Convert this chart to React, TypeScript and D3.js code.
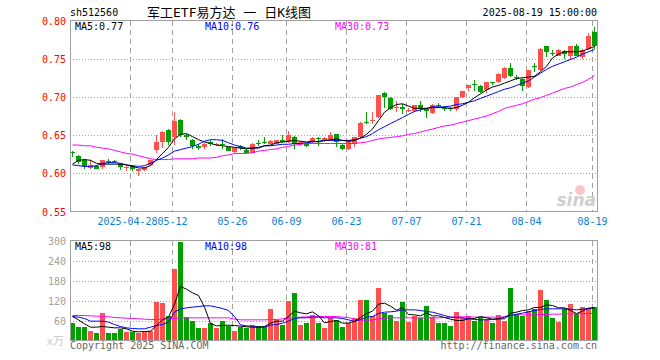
import React from 'react';
import { scaleBand, scaleLinear, line } from 'd3';

const dates = [
  '2025-04-14','2025-04-15','2025-04-16','2025-04-17','2025-04-18','2025-04-21','2025-04-22','2025-04-23','2025-04-24','2025-04-25',
  '2025-04-28','2025-04-29','2025-04-30','2025-05-06','2025-05-07','2025-05-08','2025-05-09','2025-05-12','2025-05-13','2025-05-14',
  '2025-05-15','2025-05-16','2025-05-19','2025-05-20','2025-05-21','2025-05-22','2025-05-23','2025-05-26','2025-05-27','2025-05-28',
  '2025-05-29','2025-05-30','2025-06-03','2025-06-04','2025-06-05','2025-06-06','2025-06-09','2025-06-10','2025-06-11','2025-06-12',
  '2025-06-13','2025-06-16','2025-06-17','2025-06-18','2025-06-19','2025-06-20','2025-06-23','2025-06-24','2025-06-25','2025-06-26',
  '2025-06-27','2025-06-30','2025-07-01','2025-07-02','2025-07-03','2025-07-04','2025-07-07','2025-07-08','2025-07-09','2025-07-10',
  '2025-07-11','2025-07-14','2025-07-15','2025-07-16','2025-07-17','2025-07-18','2025-07-21','2025-07-22','2025-07-23','2025-07-24',
  '2025-07-25','2025-07-28','2025-07-29','2025-07-30','2025-07-31','2025-08-01','2025-08-04','2025-08-05','2025-08-06','2025-08-07',
  '2025-08-08','2025-08-11','2025-08-12','2025-08-13','2025-08-14','2025-08-15','2025-08-18','2025-08-19',
];

const opens = [
  .628,.623,.617,.607,.609,.608,.616,.616,.612,.607, .610,.603,.604,.611,.630,.641,.657,.648,.670,.650,
  .644,.636,.634,.641,.637,.639,.634,.628,.636,.631, .627,.640,.641,.639,.639,.644,.641,.648,.638,.639,
  .642,.646,.642,.645,.651,.637,.632,.639,.647,.667, .668,.674,.705,.699,.686,.687,.682,.682,.690,.684,
  .679,.690,.685,.686,.684,.700,.711,.717,.714,.709, .719,.719,.725,.738,.726,.724,.713,.740,.735,.766,
  .757,.754,.760,.754,.766,.752,.763,.785,
];
const highs = [
  .629,.624,.619,.618,.611,.618,.619,.618,.613,.610, .611,.606,.608,.618,.650,.656,.658,.680,.671,.651,
  .645,.638,.640,.643,.640,.645,.635,.634,.637,.632, .640,.643,.647,.643,.644,.650,.655,.649,.642,.640,
  .647,.647,.647,.654,.652,.638,.644,.648,.667,.680, .680,.703,.706,.700,.695,.691,.686,.690,.695,.686,
  .691,.692,.688,.687,.700,.708,.715,.722,.716,.720, .720,.731,.739,.745,.729,.725,.735,.745,.764,.767,
  .762,.763,.762,.767,.769,.763,.783,.792,
];
const lows = [
  .621,.612,.605,.605,.605,.605,.612,.613,.604,.603, .603,.597,.603,.610,.627,.633,.637,.637,.647,.643,
  .632,.631,.632,.636,.636,.632,.629,.627,.630,.627, .626,.636,.638,.638,.638,.640,.640,.632,.636,.635,
  .640,.636,.641,.644,.634,.631,.631,.635,.646,.665, .665,.673,.686,.683,.680,.678,.680,.680,.680,.673,
  .678,.687,.681,.681,.681,.698,.708,.708,.705,.705, .716,.718,.724,.726,.722,.708,.712,.732,.734,.752,
  .753,.753,.750,.748,.753,.749,.762,.763,
];
const closes = [
  .626,.615,.610,.611,.606,.617,.615,.615,.608,.608, .606,.606,.608,.618,.641,.654,.641,.669,.650,.647,
  .636,.633,.639,.638,.639,.638,.629,.633,.633,.627, .639,.639,.640,.642,.643,.641,.650,.638,.641,.636,
  .646,.645,.646,.650,.641,.632,.643,.647,.666,.666, .670,.703,.700,.684,.687,.684,.683,.690,.686,.681,
  .690,.689,.684,.685,.700,.708,.715,.716,.706,.719, .718,.730,.738,.728,.725,.714,.735,.739,.763,.759,
  .756,.762,.756,.766,.753,.762,.780,.767,
];

const ma5 = [
  .612,.617,.618,.617,.613,.612,.612,.612,.612,.611, .609,.607,.607,.610,.618,.626,.634,.645,.651,.652,
  .648,.644,.641,.639,.637,.636,.635,.634,.633,.632, .633,.633,.636,.637,.640,.641,.642,.643,.642,.641,
  .642,.641,.643,.644,.645,.643,.642,.643,.646,.651, .658,.669,.680,.686,.690,.691,.688,.685,.685,.685,
  .686,.686,.686,.685,.686,.689,.693,.699,.704,.709, .713,.715,.718,.721,.724,.725,.726,.727,.733,.740,
  .751,.756,.759,.759,.759,.760,.763,.766,
];
const ma10 = [
  .611,.610,.609,.609,.610,.613,.614,.614,.613,.611, .610,.609,.610,.613,.617,.620,.624,.629,.631,.633,
  .635,.638,.642,.644,.644,.643,.640,.637,.635,.633, .633,.634,.636,.636,.637,.638,.638,.639,.639,.640,
  .641,.642,.643,.643,.643,.643,.643,.644,.646,.648, .652,.657,.661,.665,.669,.673,.677,.681,.683,.685,
  .687,.687,.687,.688,.690,.691,.693,.695,.698,.701, .704,.707,.710,.712,.715,.718,.721,.726,.731,.736,
  .740,.743,.746,.749,.752,.756,.759,.762,
];
const ma30 = [
  .637,.637,.636,.636,.634,.633,.632,.630,.628,.626, .625,.623,.621,.619,.618,.618,.618,.619,.619,.619,
  .619,.620,.620,.620,.621,.623,.624,.626,.626,.626, .627,.629,.630,.631,.632,.634,.635,.637,.638,.639,
  .639,.639,.639,.639,.639,.639,.639,.639,.640,.641, .643,.645,.646,.647,.648,.649,.651,.652,.654,.656,
  .658,.660,.662,.663,.665,.667,.669,.671,.673,.675, .678,.681,.685,.687,.689,.691,.694,.697,.699,.702,
  .705,.708,.711,.713,.716,.719,.723,.728,
];

const volumes = [
  52,40,40,30,24,84,22,24,34,25, 27,22,27,30,115,112,75,214,295,72,
  58,37,37,52,37,60,45,30,42,37, 48,45,42,94,62,47,118,142,48,52,
  78,52,37,68,63,40,53,67,123,123, 75,157,83,78,60,115,55,75,67,105,
  70,52,52,43,85,68,75,60,70,65, 52,78,58,157,80,75,90,95,153,121,
  67,55,95,110,80,100,98,100,
];
const volMa5 = [
  72,62,50,40,40,42,40,38,38,35, 28,26,27,28,45,62,70,109,162,154,
  143,135,100,51,44,45,46,45,43,41, 40,40,42,52,58,58,72,88,83,80,
  86,74,53,57,60,52,52,58,69,81, 88,109,112,103,91,99,78,77,74,83,
  74,74,69,64,60,60,65,66,72,68, 64,65,65,82,85,90,92,99,99,107,
  105,98,98,90,81,88,97,98,
];
const volMa10 = [
  72,70,66,58,58,58,55,48,42,38, 36,35,35,40,45,48,55,85,95,98,
  100,102,104,104,100,96,90,72,47,44, 43,40,40,46,48,52,58,66,68,68,
  70,70,68,68,68,66,62,57,63,70, 72,81,85,86,88,92,92,92,90,87,
  85,80,75,70,69,68,66,63,62,62, 63,65,70,75,79,82,86,90,93,95,
  95,95,95,94,92,94,96,98,
];
const volMa30 = [
  75,75,75,74,73,72,71,69,68,67, 66,65,64,63,63,64,65,66,68,68,
  68,68,68,68,68,68,68,64,62,62, 62,62,62,63,63,65,67,69,70,71,
  72,72,72,72,72,70,69,64,61,61, 61,65,67,68,68,68,68,68,68,68,
  68,68,69,70,71,71,71,70,70,70, 70,70,71,76,77,77,77,77,78,78,
  79,79,80,80,80,80,81,81,
];

const tickDates = ['2025-04-28','2025-05-12','2025-05-26','2025-06-09','2025-06-23','2025-07-07','2025-07-21','2025-08-04','2025-08-19'];
const tickLabels = ['2025-04-28','05-12','05-26','06-09','06-23','07-07','07-21','08-04','08-19'];
const priceTicks = [0.80, 0.75, 0.70, 0.65, 0.60, 0.55];
const volTicks = [300, 240, 180, 120, 60];

const UP = '#ff5050';
const DOWN = '#00a000';
const GRID = '#a0a0a0';
const MONO = '"DejaVu Sans Mono", monospace';

export default function App() {
  const left = 70, right = 598;
  const x = scaleBand<string>().domain(dates).range([left, right]);
  const y = scaleLinear().domain([0.55, 0.80]).range([211.5, 20.5]);
  const vy = scaleLinear().domain([0, 300]).range([340.5, 240.5]);
  const cx = (i: number) => (x(dates[i]) as number) + 2.5;

  const priceLine = line<number>().x((_, i) => cx(i)).y(d => y(d));
  const volLine = line<number>().x((_, i) => cx(i)).y(d => vy(d));

  const vgrid = (top: number, bottom: number) =>
    tickDates.map(d => {
      const gx = (x(d) as number) + 0.5;
      return <line key={d + top} x1={gx} x2={gx} y1={top} y2={bottom} stroke={GRID} strokeDasharray="5,4" />;
    });

  return (
    <svg width={660} height={360} style={{ position: 'absolute', left: 0, top: 0, background: '#fff' }}
      fontFamily={MONO} fontSize={10}>
      <rect width={660} height={360} fill="#fff" />

      {/* header */}
      <text x={70} y={16} fill="#000">sh512560</text>
      <text x={229} y={17} textAnchor="middle" fontSize={13}
        fontFamily={'"DejaVu Sans Mono", "Noto Sans CJK SC", sans-serif'}>军工ETF易方达 一 日K线图</text>
      <text x={597} y={16} textAnchor="end" fill="#000">2025-08-19 15:00:00</text>

      {/* price panel grid */}
      {priceTicks.slice(1, -1).map(t => (
        <line key={t} x1={70} x2={597} y1={Math.round(y(t)) + 0.5} y2={Math.round(y(t)) + 0.5}
          stroke={GRID} strokeDasharray="1,2" />
      ))}
      {vgrid(21, 211)}
      {priceTicks.map(t => (
        <text key={t} x={66} y={y(t) + 4} textAnchor="end" fill="#ff0000">{t.toFixed(2)}</text>
      ))}

      {/* watermark */}
      <circle cx={580} cy={190} r={5} fill="#f6b8b8" opacity={0.8} />
      <text x={596} y={206} textAnchor="end" fontSize={17} fontStyle="italic" fontWeight="bold"
        fontFamily="'DejaVu Sans', sans-serif" fill="#cfcfcf">sina</text>

      {/* candles */}
      <g shapeRendering="crispEdges">
        {dates.map((d, i) => {
          const o = opens[i], c = closes[i];
          const col = c >= o ? UP : DOWN;
          const x0 = x(d) as number;
          const top = Math.round(y(Math.max(o, c)));
          const bot = Math.round(y(Math.min(o, c)));
          return (
            <g key={d} fill={col}>
              <rect x={x0 + 2} y={Math.round(y(highs[i]))} width={1}
                height={Math.max(1, Math.round(y(lows[i])) - Math.round(y(highs[i])))} />
              <rect x={x0} y={top} width={5} height={Math.max(1, bot - top)} />
            </g>
          );
        })}
      </g>

      <path d={priceLine(ma30) || ''} fill="none" stroke="#ff00ff" strokeWidth={1} />
      <path d={priceLine(ma10) || ''} fill="none" stroke="#0000ff" strokeWidth={1} />
      <path d={priceLine(ma5) || ''} fill="none" stroke="#000" strokeWidth={1} />

      <rect x={70.5} y={20.5} width={527} height={191} fill="none" stroke={GRID} />
      <text x={75} y={30} fill="#000">MA5:0.77</text>
      <text x={205} y={30} fill="#0000ff">MA10:0.76</text>
      <text x={335} y={30} fill="#ff00ff">MA30:0.73</text>

      {/* date axis: the first, long label is nudged left so it does not run into 05-12 */}
      {tickDates.map((d, i) => (
        <text key={d} x={(x(d) as number) + 0.5 - (i === 0 ? 3 : 0)} y={225} textAnchor="middle"
          fill="#0a7fd0">{tickLabels[i]}</text>
      ))}

      {/* volume panel */}
      {volTicks.slice(1).map(t => (
        <line key={t} x1={70} x2={597} y1={Math.round(vy(t)) + 0.5} y2={Math.round(vy(t)) + 0.5}
          stroke={GRID} strokeDasharray="1,2" />
      ))}
      {vgrid(241, 340)}
      {volTicks.map(t => (
        <text key={t} x={66} y={vy(t) + 4} textAnchor="end" fill="#a0a0a0">{t}</text>
      ))}
      <text x={64} y={345} textAnchor="end" fill="#c8c8c8" fontSize={11}
        fontFamily={'"DejaVu Sans Mono", "Noto Sans CJK SC", sans-serif'}>x万</text>

      <g shapeRendering="crispEdges">
        {dates.map((d, i) => {
          const col = closes[i] >= opens[i] ? UP : DOWN;
          const top = Math.round(vy(volumes[i]));
          return <rect key={d} x={x(d) as number} y={top} width={5} height={340 - top} fill={col} />;
        })}
      </g>

      <path d={volLine(volMa30) || ''} fill="none" stroke="#ff00ff" strokeWidth={1} />
      <path d={volLine(volMa10) || ''} fill="none" stroke="#0000ff" strokeWidth={1} />
      <path d={volLine(volMa5) || ''} fill="none" stroke="#000" strokeWidth={1} />

      <rect x={70.5} y={240.5} width={527} height={100} fill="none" stroke={GRID} />
      <text x={75} y={250} fill="#000">MA5:98</text>
      <text x={205} y={250} fill="#0000ff">MA10:98</text>
      <text x={335} y={250} fill="#ff00ff">MA30:81</text>

      {/* footer */}
      <text x={70} y={349} fill="#666">Copyright 2025 SINA.COM</text>
      <text x={597} y={349} textAnchor="end" fill="#666">http://finance.sina.com.cn</text>
    </svg>
  );
}
